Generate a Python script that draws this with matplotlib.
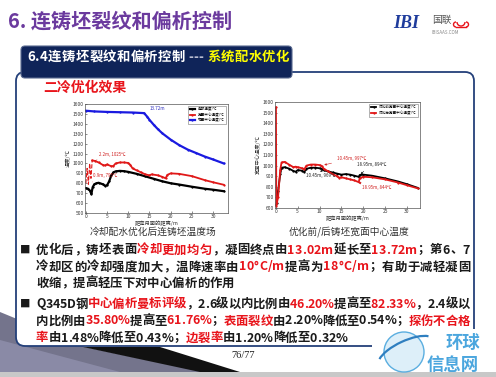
import matplotlib
matplotlib.use("Agg")
import matplotlib.pyplot as plt
from matplotlib.patches import FancyBboxPatch, Polygon, Circle, Arc, Rectangle
import numpy as np

FAM = ['Noto Sans CJK SC', 'DejaVu Sans']
plt.rcParams['font.family'] = FAM
plt.rcParams['axes.unicode_minus'] = False

# ---------------- data ----------------
# Left chart: temperature field after cooling-water optimisation
left_blue_x = [0, 2, 5, 8, 11, 13.72, 14.5, 15, 16, 17, 18, 20, 22, 24, 26, 28, 30, 32.5]
left_blue_y = [1532, 1525, 1520, 1517, 1514, 1508, 1470, 1440, 1390, 1345, 1305, 1240, 1185, 1140, 1105, 1070, 1040, 1000]

left_red_x = [0, 0.3, 0.6, 0.9, 1.2, 1.5, 2.2, 3, 4, 4.5, 5, 6, 6.5, 7, 8, 9, 10, 10.5, 11, 12, 13, 14, 15, 15.5, 17, 18, 18.8, 19.2, 20, 22, 25, 28, 30, 32.5]
left_red_y = [800, 950, 790, 1000, 850, 1030, 1025, 1010, 985, 980, 990, 972, 975, 1000, 1010, 1010, 1005, 985, 950, 930, 910, 890, 880, 890, 880, 865, 850, 885, 900, 895, 872, 832, 810, 785]

left_black_x = [0, 0.5, 1, 1.3, 1.6, 2, 2.5, 3, 4, 4.5, 5, 5.5, 6, 6.5, 7, 8, 9, 10, 12, 14, 16, 18, 20, 22, 25, 28, 30, 32.5]
left_black_y = [750, 745, 725, 690, 760, 790, 800, 805, 790, 775, 780, 820, 880, 910, 920, 925, 922, 915, 895, 870, 845, 820, 800, 787, 765, 745, 735, 720]

left_legend = ['角部温度/℃', '宽面中心温度/℃', '窄面中心温度/℃']

# Right chart: wide-face centre temperature before / after optimisation
right_before_x = [0.2, 0.5, 1, 1.3, 2, 3, 4, 4.5, 5, 6, 6.5, 7, 8, 9, 10, 10.45, 11, 12, 13, 14, 15, 16, 17, 18, 18.95, 19.2, 20, 22, 25, 28, 30, 32.5]
right_before_y = [650, 760, 920, 980, 985, 972, 950, 942, 958, 952, 940, 970, 980, 980, 975, 969, 955, 945, 935, 925, 915, 920, 915, 905, 894, 912, 915, 905, 880, 850, 825, 790]

right_after_x = [0.02, 0.1, 0.5, 1, 1.3, 2, 3, 4, 4.5, 5, 6, 6.5, 7, 8, 9, 10, 10.45, 11, 12, 13, 14, 14.5, 15, 16, 17, 18, 18.95, 19.2, 20, 22, 25, 28, 30, 32.5]
right_after_y = [1550, 620, 700, 960, 1030, 1035, 1010, 985, 990, 985, 975, 965, 1000, 1010, 1010, 1005, 997, 970, 945, 920, 900, 885, 890, 880, 870, 860, 844, 880, 895, 890, 870, 840, 815, 785]

right_legend = ['优化前宽面中心温度/℃', '优化后宽面中心温度/℃']

x_ticks = [0, 5, 10, 15, 20, 25, 30]
left_y_ticks = [500, 600, 700, 800, 900, 1000, 1100, 1200, 1300, 1400, 1500, 1600]
right_y_ticks = [600, 700, 800, 900, 1000, 1100, 1200, 1300, 1400, 1500, 1600]

# ---------------- figure ----------------
W, H = 496, 377
fig = plt.figure(figsize=(W / 100, H / 100), dpi=100)
fig.patch.set_facecolor('white')
bg = fig.add_axes([0, 0, 1, 1])
bg.set_xlim(0, W)
bg.set_ylim(H, 0)
bg.axis('off')
bg.set_zorder(0)

NAVY = '#0F2459'
RED = '#E8141B'
DARK = '#1A1A1A'

# bottom slide decoration
bg.add_patch(Polygon([[0, 312], [0, 372], [205, 372], [85, 347]], closed=True, fc='#74748C', ec='none', zorder=0))
bg.add_patch(Polygon([[0, 340], [0, 372], [120, 372]], closed=True, fc='#8A8AA6', ec='none', zorder=0))
bg.add_patch(Polygon([[83, 347], [160, 347], [240, 372], [200, 372]], closed=True, fc='#111111', ec='none', zorder=0))
bg.add_patch(Rectangle((0, 372), W, 5, fc='#C8C8C8', ec='none', zorder=0))

# big rounded panel
bg.add_patch(FancyBboxPatch((16, 72), 458, 274, boxstyle='round,pad=0,rounding_size=9',
                            fc='white', ec='#24407A', lw=1.3, zorder=1))
# subtitle box
bg.add_patch(FancyBboxPatch((21, 46), 271, 32, boxstyle='round,pad=0,rounding_size=4',
                            fc=NAVY, ec='#5A6A90', lw=0.8, zorder=2))

# title
bg.text(8, 21, '6. 连铸坯裂纹和偏析控制', fontsize=14.5, fontweight='bold', color='#6B3A9E',
        va='center', ha='left', zorder=3)

# logo
bg.text(393, 24, 'IBI', fontsize=13, fontweight='bold', style='italic', family='Liberation Serif',
        color='#1F3C9C', va='center', ha='left', zorder=3)
bg.text(432, 20, '国联', fontsize=7, color='#555555', va='center', ha='left', zorder=3)
bg.text(432, 32, 'IBISAAS.COM', fontsize=3.2, color='#888888', va='center', ha='left', zorder=3)
bg.add_patch(Arc((461, 22), 8, 8, theta1=0, theta2=180, color=RED, lw=1.0, zorder=3))
bg.add_patch(Arc((466, 24.5), 5, 5, theta1=-90, theta2=90, color=RED, lw=1.0, zorder=3))
bg.add_patch(Arc((456, 24.5), 5, 5, theta1=90, theta2=270, color=RED, lw=1.0, zorder=3))
bg.plot([456, 466], [27, 27], color=RED, lw=1.0, zorder=3)

renderer = fig.canvas.get_renderer()


def draw_segments(segments, x0, y, size, weight='bold', justify_to=None, zorder=4):
    chars = [(ch, col) for seg, col in segments for ch in seg]
    items = []
    for ch, col in chars:
        t = bg.text(0, y, ch, fontsize=size, fontweight=weight, color=col, va='center', ha='left', zorder=zorder)
        if ch == ' ':
            w = size * 0.3
        else:
            w = t.get_window_extent(renderer).width
        items.append((t, w))
    total = sum(w for _, w in items)
    gap = 0.0
    if justify_to is not None and len(items) > 1:
        gap = (justify_to - x0 - total) / (len(items) - 1)
    x = x0
    for t, w in items:
        t.set_x(x)
        x += w + gap


draw_segments([('6.4连铸坯裂纹和偏析控制 ', 'white'), ('---', '#B8BCD0'), (' ', 'white'),
               ('系统配水优化', '#FFFF00')], 27, 57, 9.6, justify_to=289)

bg.text(43, 88, '二冷优化效果', fontsize=10, fontweight='bold', color=RED, va='center', ha='left', zorder=4)

# captions
bg.text(153, 232, '冷却配水优化后连铸坯温度场', fontsize=7, color='#333333', va='center', ha='center', zorder=4)
bg.text(349, 232, '优化前/后铸坯宽面中心温度', fontsize=7, color='#333333', va='center', ha='center', zorder=4)

# bullets
K = DARK
lines = [
    ([('优化后，铸坯表面', K), ('冷却更加均匀', RED), ('，凝固终点由', K), ('13.02m', RED), ('延长至', K),
      ('13.72m', RED), ('；第6、7', K)], 250, True),
    ([('冷却区的冷却强度加大，温降速率由', K), ('10°C/m', RED), ('提高为', K), ('18°C/m', RED),
      ('；有助于减轻凝固', K)], 267, True),
    ([('收缩，提高轻压下对中心偏析的作用', K)], 283, False),
    ([('Q345D钢', K), ('中心偏析曼标评级', RED), ('，2.6级以内比例由', K), ('46.20%', RED), ('提高至', K),
      ('82.33%', RED), ('，2.4级以', K)], 304, True),
    ([('内比例由', K), ('35.80%', RED), ('提高至', K), ('61.76%', RED), ('；', K), ('表面裂纹', RED),
      ('由2.20%降低至0.54%；', K), ('探伤不合格', RED)], 321, True),
    ([('率', RED), ('由1.48%降低至0.43%；', K), ('边裂率', RED), ('由1.20%降低至0.32%', K)], 338, False),
]
for segs, y, just in lines:
    draw_segments(segs, 36, y, 8.9, justify_to=470 if just else None)
bg.text(25, 250, '■', fontsize=7.5, color=K, va='center', ha='center', zorder=4)
bg.text(25, 304, '■', fontsize=7.5, color=K, va='center', ha='center', zorder=4)

# page number
bg.text(243, 356, '76/77', fontsize=7.5, family='Liberation Serif', color='#222222', va='center', ha='center', zorder=4)

# watermark
bg.add_patch(Rectangle((372, 329), 124, 43, fc='white', ec='none', zorder=5))
bg.add_patch(Circle((404, 352), 20, fc='#DDEFF9', ec='#5AAEE0', lw=1.0, zorder=5))
bg.add_patch(Arc((406, 352), 60, 22, theta1=190, theta2=350, angle=-25, color='#2F7FC0', lw=1.6, zorder=6))
bg.text(463, 343, '环球', fontsize=12.5, fontweight='bold', style='italic', color='#4BA6DE', va='center', ha='center', zorder=6)
bg.text(453, 365, '信息网', fontsize=12.5, fontweight='bold', style='italic', color='#4BA6DE', va='center', ha='center', zorder=6)


def style_axes(ax, yticks, ylabel):
    ax.set_xticks(x_ticks)
    ax.set_yticks(yticks)
    ax.tick_params(labelsize=3.5, length=1.5, width=0.4, pad=1, colors='#333333', direction='in')
    for s in ax.spines.values():
        s.set_linewidth(0.5)
        s.set_color('#555555')
    ax.set_xlabel('距弯月面的距离/m', fontsize=3.8, labelpad=1, color='#333333')
    ax.set_ylabel(ylabel, fontsize=3.8, labelpad=1, color='#333333')


# left chart
ax1 = fig.add_axes([85 / W, 1 - 213 / H, 143 / W, 109 / H])
ax1.set_zorder(5)
ax1.plot(left_black_x, left_black_y, color='black', lw=1.6, marker='s', ms=0.6, label=left_legend[0])
ax1.plot(left_red_x[5:], left_red_y[5:], color='#E01818', lw=1.3, marker='s', ms=0.6, label=left_legend[1])
ax1.plot(left_red_x[:6], left_red_y[:6], color='#E01818', lw=0.8, ls='--')
ax1.plot(left_blue_x, left_blue_y, color='#1A1AE0', lw=1.6, marker='s', ms=0.6, label=left_legend[2])
ax1.set_xlim(-0.2, 33.5)
ax1.set_ylim(500, 1600)
style_axes(ax1, left_y_ticks, '温度/℃')
ax1.annotate('13.72m', xy=(13.72, 1508), xytext=(15, 1535), fontsize=3.3, color='#3030C0',
             arrowprops=dict(arrowstyle='-', lw=0.3, color='#3030C0'))
ax1.annotate('2.2m, 1025℃', xy=(2.2, 1030), xytext=(3, 1075), fontsize=3.2, color='#D02020',
             arrowprops=dict(arrowstyle='-', lw=0.3, color='#D02020'))
ax1.annotate('0.9m, 795℃', xy=(0.9, 800), xytext=(1.8, 865), fontsize=3.2, color='#D02020',
             arrowprops=dict(arrowstyle='-', lw=0.3, color='#D02020'))
ax1.legend(loc='upper right', fontsize=2.6, frameon=True, fancybox=False, edgecolor='#777777',
           handlelength=1.5, borderpad=0.4, labelspacing=0.3, framealpha=1).get_frame().set_linewidth(0.4)

# right chart
ax2 = fig.add_axes([275 / W, 1 - 208 / H, 145 / W, 106 / H])
ax2.set_zorder(5)
ax2.plot(right_before_x, right_before_y, color='black', lw=1.3, marker='s', ms=0.6, label=right_legend[0])
ax2.plot(right_after_x, right_after_y, color='#E01818', lw=1.3, marker='s', ms=0.6, label=right_legend[1])
ax2.set_xlim(-0.2, 33)
ax2.set_ylim(600, 1600)
style_axes(ax2, right_y_ticks, '宽面中心温度/℃')
ax2.annotate('10.45m, 997℃', xy=(10.45, 1000), xytext=(14, 1055), fontsize=3.2, color='#D02020',
             arrowprops=dict(arrowstyle='-|>', lw=0.4, color='#D02020', mutation_scale=3))
ax2.annotate('10.45m, 969℃', xy=(10.45, 965), xytext=(7, 890), fontsize=3.2, color='#222222',
             arrowprops=dict(arrowstyle='-|>', lw=0.4, color='#222222', mutation_scale=3))
ax2.annotate('18.95m, 894℃', xy=(18.95, 900), xytext=(18.5, 1000), fontsize=3.2, color='#222222',
             arrowprops=dict(arrowstyle='-|>', lw=0.4, color='#222222', mutation_scale=3))
ax2.annotate('18.95m, 844℃', xy=(18.95, 840), xytext=(19.8, 775), fontsize=3.2, color='#D02020',
             arrowprops=dict(arrowstyle='-|>', lw=0.4, color='#D02020', mutation_scale=3))
ax2.legend(loc='upper right', fontsize=2.6, frameon=True, fancybox=False, edgecolor='#777777',
           handlelength=1.5, borderpad=0.4, labelspacing=0.3, framealpha=1).get_frame().set_linewidth(0.4)

fig.savefig('out.png', dpi=100)
